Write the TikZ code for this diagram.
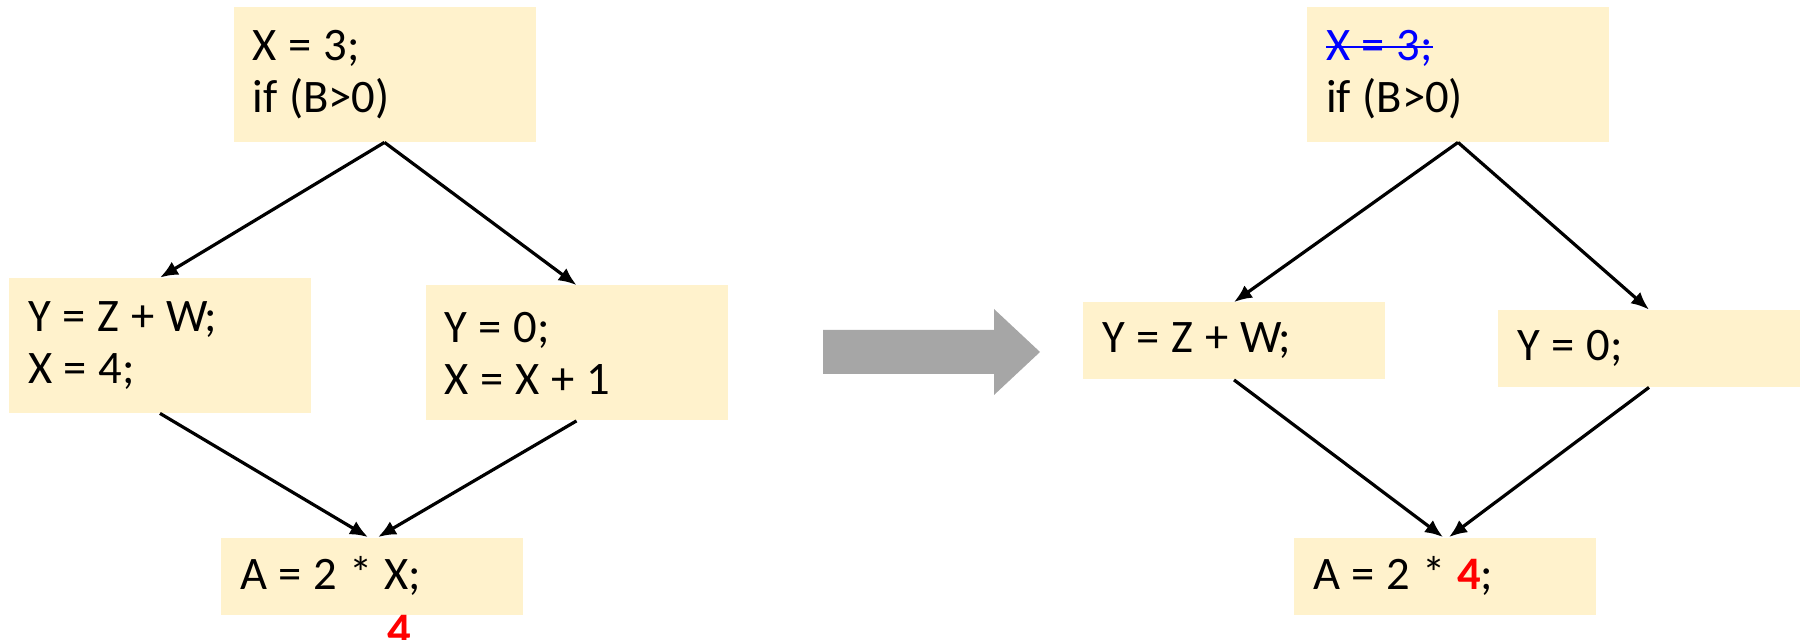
\documentclass[tikz,border=0pt]{standalone}
\usepackage{fontspec}
\setmainfont{Carlito}
\usetikzlibrary{arrows.meta}
\definecolor{boxfill}{RGB}{255,242,204}
\definecolor{arrowgray}{RGB}{166,166,166}
\newcommand{\boxfont}{\fontsize{23.3}{26}\selectfont\spaceskip 5.9pt\relax}
\newcommand{\strikeout}[1]{\setbox0\hbox{#1}\rlap{\rule[0.55ex]{\wd0}{1pt}}\box0}

\begin{document}
\begin{tikzpicture}[x=.5pt, y=-.5pt,
  every node/.style={font=\boxfont},
  box/.style={fill=boxfill, text width=132pt, inner xsep=9.5pt, inner ysep=0pt, align=flush left},
  tall/.style={box, minimum height=67.5pt},
  short/.style={box, minimum height=38.5pt},
  flow/.style={-{Latex[length=9pt,width=7.5pt]}, line width=1.6pt}]

\useasboundingbox (0,0) rectangle (1808,640);

\node [tall] (init) at (384.5,74.5) {X = 3;\\ if (B>0)};
\node [tall] (then) at (160,345.5) {Y = Z + W;\\ X = 4;};
\node [tall] (else) at (576.5,353) {Y = 0;\\ X = X + 1};
\node [short] (join) at (372,576) {A = 2 * X;};
\node [text=red, font=\boxfont\bfseries, anchor=north, inner sep=0pt] (val) at (399,615) {4};

\draw [flow] (init.south) -- (then.north);
\draw [flow] (init.south) -- (else.north);
\draw [flow] (then.south) -- ([xshift=-2pt]join.north);
\draw [flow] (else.south) -- ([xshift=3pt]join.north);

\fill [arrowgray] (823,330) -- (994,330) -- (994,309) -- (1040,352) -- (994,395) -- (994,374) -- (823,374) -- cycle;

\node [tall] (init2) at (1458,74.5) {\textcolor{blue}{\strikeout{X = 3;}}\\ if (B>0)};
\node [short] (then2) at (1234,341) {Y = Z + W;};
\node [short] (else2) at (1649,348.5) {Y = 0;};
\node [short] (join2) at (1445,576) {A = 2 * \textcolor{red}{\textbf{4}};};

\draw [flow] (init2.south) -- (then2.north);
\draw [flow] (init2.south) -- (else2.north);
\draw [flow] (then2.south) -- ([xshift=-1pt]join2.north);
\draw [flow] (else2.south) -- ([xshift=2pt]join2.north);
\end{tikzpicture}
\end{document}
